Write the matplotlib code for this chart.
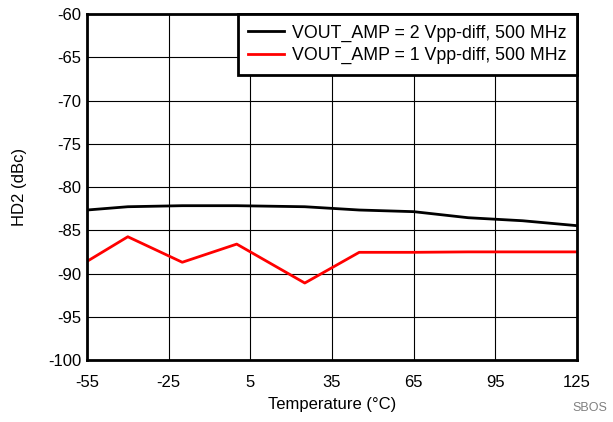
import matplotlib
matplotlib.use("Agg")
import matplotlib.pyplot as plt

plt.rcParams['font.family'] = ['Liberation Sans', 'DejaVu Sans']
plt.rcParams['axes.unicode_minus'] = False

# Temperature points (deg C)
temp_2v = [-55, -40, -20, 0, 25, 45, 65, 85, 105, 125]
hd2_2v = [-82.66, -82.28, -82.16, -82.16, -82.28, -82.66, -82.85, -83.55, -83.9, -84.47]

temp_1v = [-55, -40, -20, 0, 25, 45, 65, 85, 105, 125]
hd2_1v = [-88.6, -85.75, -88.7, -86.6, -91.1, -87.55, -87.55, -87.5, -87.5, -87.5]

xticks = [-55, -25, 5, 35, 65, 95, 125]
yticks = list(range(-100, -55, 5))

fig = plt.figure(figsize=(6.13, 4.22), dpi=100)
ax = fig.add_axes([0.1419, 0.1469, 0.7994, 0.8199])

ax.plot(temp_2v, hd2_2v, color='black', lw=2, label='VOUT_AMP = 2 Vpp-diff, 500 MHz')
ax.plot(temp_1v, hd2_1v, color='red', lw=2, label='VOUT_AMP = 1 Vpp-diff, 500 MHz')

ax.set_xlim(-55, 125)
ax.set_ylim(-100, -60)
ax.set_xticks(xticks)
ax.set_yticks(yticks)
ax.tick_params(labelsize=12, length=0)
ax.tick_params(axis='x', pad=11)
ax.tick_params(axis='y', pad=4)
ax.grid(True, color='black', lw=0.8)
for s in ax.spines.values():
    s.set_linewidth(2)

ax.set_xlabel('Temperature (°C)', fontsize=12, labelpad=5)
ax.set_ylabel('HD2 (dBc)', fontsize=12, labelpad=15)

leg = ax.legend(loc='upper right', borderaxespad=0, fontsize=12.8, fancybox=False,
                framealpha=1, edgecolor='black', handlelength=2.0, labelspacing=0.3,
                borderpad=0.6, handletextpad=0.45, handleheight=0.8)
leg.get_frame().set_linewidth(2)

fig.text(0.99, 0.02, 'SBOS', color='gray', fontsize=9, ha='right', va='bottom')

fig.savefig('out.png', dpi=100)
